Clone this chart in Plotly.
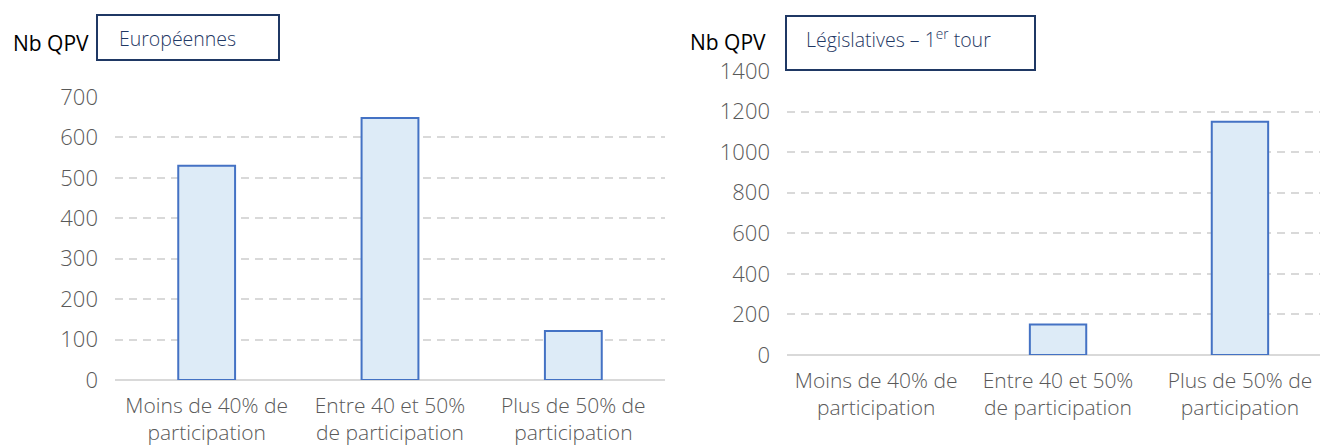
import plotly.graph_objects as go

categories = ["Moins de 40% de<br>participation", "Entre 40 et 50%<br>de participation", "Plus de 50% de<br>participation"]
europeennes = [530, 648, 121]
legislatives = [0, 150, 1150]
eu_ticks = [0, 100, 200, 300, 400, 500, 600, 700]
leg_ticks = [0, 200, 400, 600, 800, 1000, 1200, 1400]

W, H = 1320, 445
def px(x): return x / W
def py(y): return 1 - y / H

BAR_FILL = "#DDEBF7"
BAR_LINE = "#4472C4"
GRID = "#D9D9D9"
TXT = "#595959"
NAVY = "#1F3864"
FONT = "Open Sans, sans-serif"

fig = go.Figure()
fig.add_trace(go.Bar(x=categories, y=europeennes, xaxis="x", yaxis="y", width=0.31,
                     marker=dict(color=BAR_FILL, line=dict(color=BAR_LINE, width=2)), showlegend=False))
fig.add_trace(go.Bar(x=categories, y=legislatives, xaxis="x2", yaxis="y2", width=0.31,
                     marker=dict(color=BAR_FILL, line=dict(color=BAR_LINE, width=[0 if v == 0 else 2 for v in legislatives])),
                     showlegend=False))

tick_font = dict(family=FONT, size=22, color=TXT, weight=300)
xtick_font = dict(family=FONT, size=21, color=TXT, weight=300)
common_x = dict(showgrid=False, showline=False, ticks="", tickfont=xtick_font, ticklabelstandoff=11, automargin=False)
common_y = dict(showgrid=True, gridcolor=GRID, gridwidth=2, griddash="8px,6px",
                zeroline=True, zerolinecolor=GRID, zerolinewidth=2, showline=False, ticks="",
                tickfont=tick_font, ticklabelstandoff=16, automargin=False)

fig.update_layout(
    width=W, height=H, margin=dict(l=0, r=0, t=0, b=0, autoexpand=False),
    plot_bgcolor="white", paper_bgcolor="white",
    xaxis=dict(domain=[px(115), px(665)], range=[-0.5, 2.5], anchor="y", **common_x),
    yaxis=dict(domain=[py(380), py(97)], range=[0, 700], tickvals=eu_ticks, anchor="x", **common_y),
    xaxis2=dict(domain=[px(787), 1.0], range=[-0.49, 2.44], anchor="y2", **common_x),
    yaxis2=dict(domain=[py(355), py(71)], range=[0, 1400], tickvals=leg_ticks, anchor="x2", **common_y),
)

# boxes
fig.add_shape(type="rect", xref="paper", yref="paper", x0=px(97), x1=px(279), y0=py(60), y1=py(15),
              line=dict(color=NAVY, width=2), fillcolor="white", layer="above")
fig.add_shape(type="rect", xref="paper", yref="paper", x0=px(786), x1=px(1035), y0=py(70), y1=py(16),
              line=dict(color=NAVY, width=2), fillcolor="white", layer="above")

box_font = dict(family=FONT, size=19.5, color=NAVY, weight=300)
fig.add_annotation(xref="paper", yref="paper", x=px(117), y=py(38), text="Européennes", showarrow=False,
                   xanchor="left", yanchor="middle", font=box_font)
fig.add_annotation(xref="paper", yref="paper", x=px(804), y=py(38), text="Législatives – 1<sup>er</sup> tour",
                   showarrow=False, xanchor="left", yanchor="middle", font=box_font)

lbl_font = dict(family="Liberation Sans Narrow, Open Sans, sans-serif", size=21, color="black")
fig.add_annotation(xref="paper", yref="paper", x=px(11), y=py(43), text="Nb QPV", showarrow=False,
                   xanchor="left", yanchor="middle", font=lbl_font)
fig.add_annotation(xref="paper", yref="paper", x=px(688), y=py(42), text="Nb QPV", showarrow=False,
                   xanchor="left", yanchor="middle", font=lbl_font)

fig.write_html("out.html", config=dict(displayModeBar=False),
               post_script="document.body.style.margin='0';document.body.style.overflow='hidden';")
